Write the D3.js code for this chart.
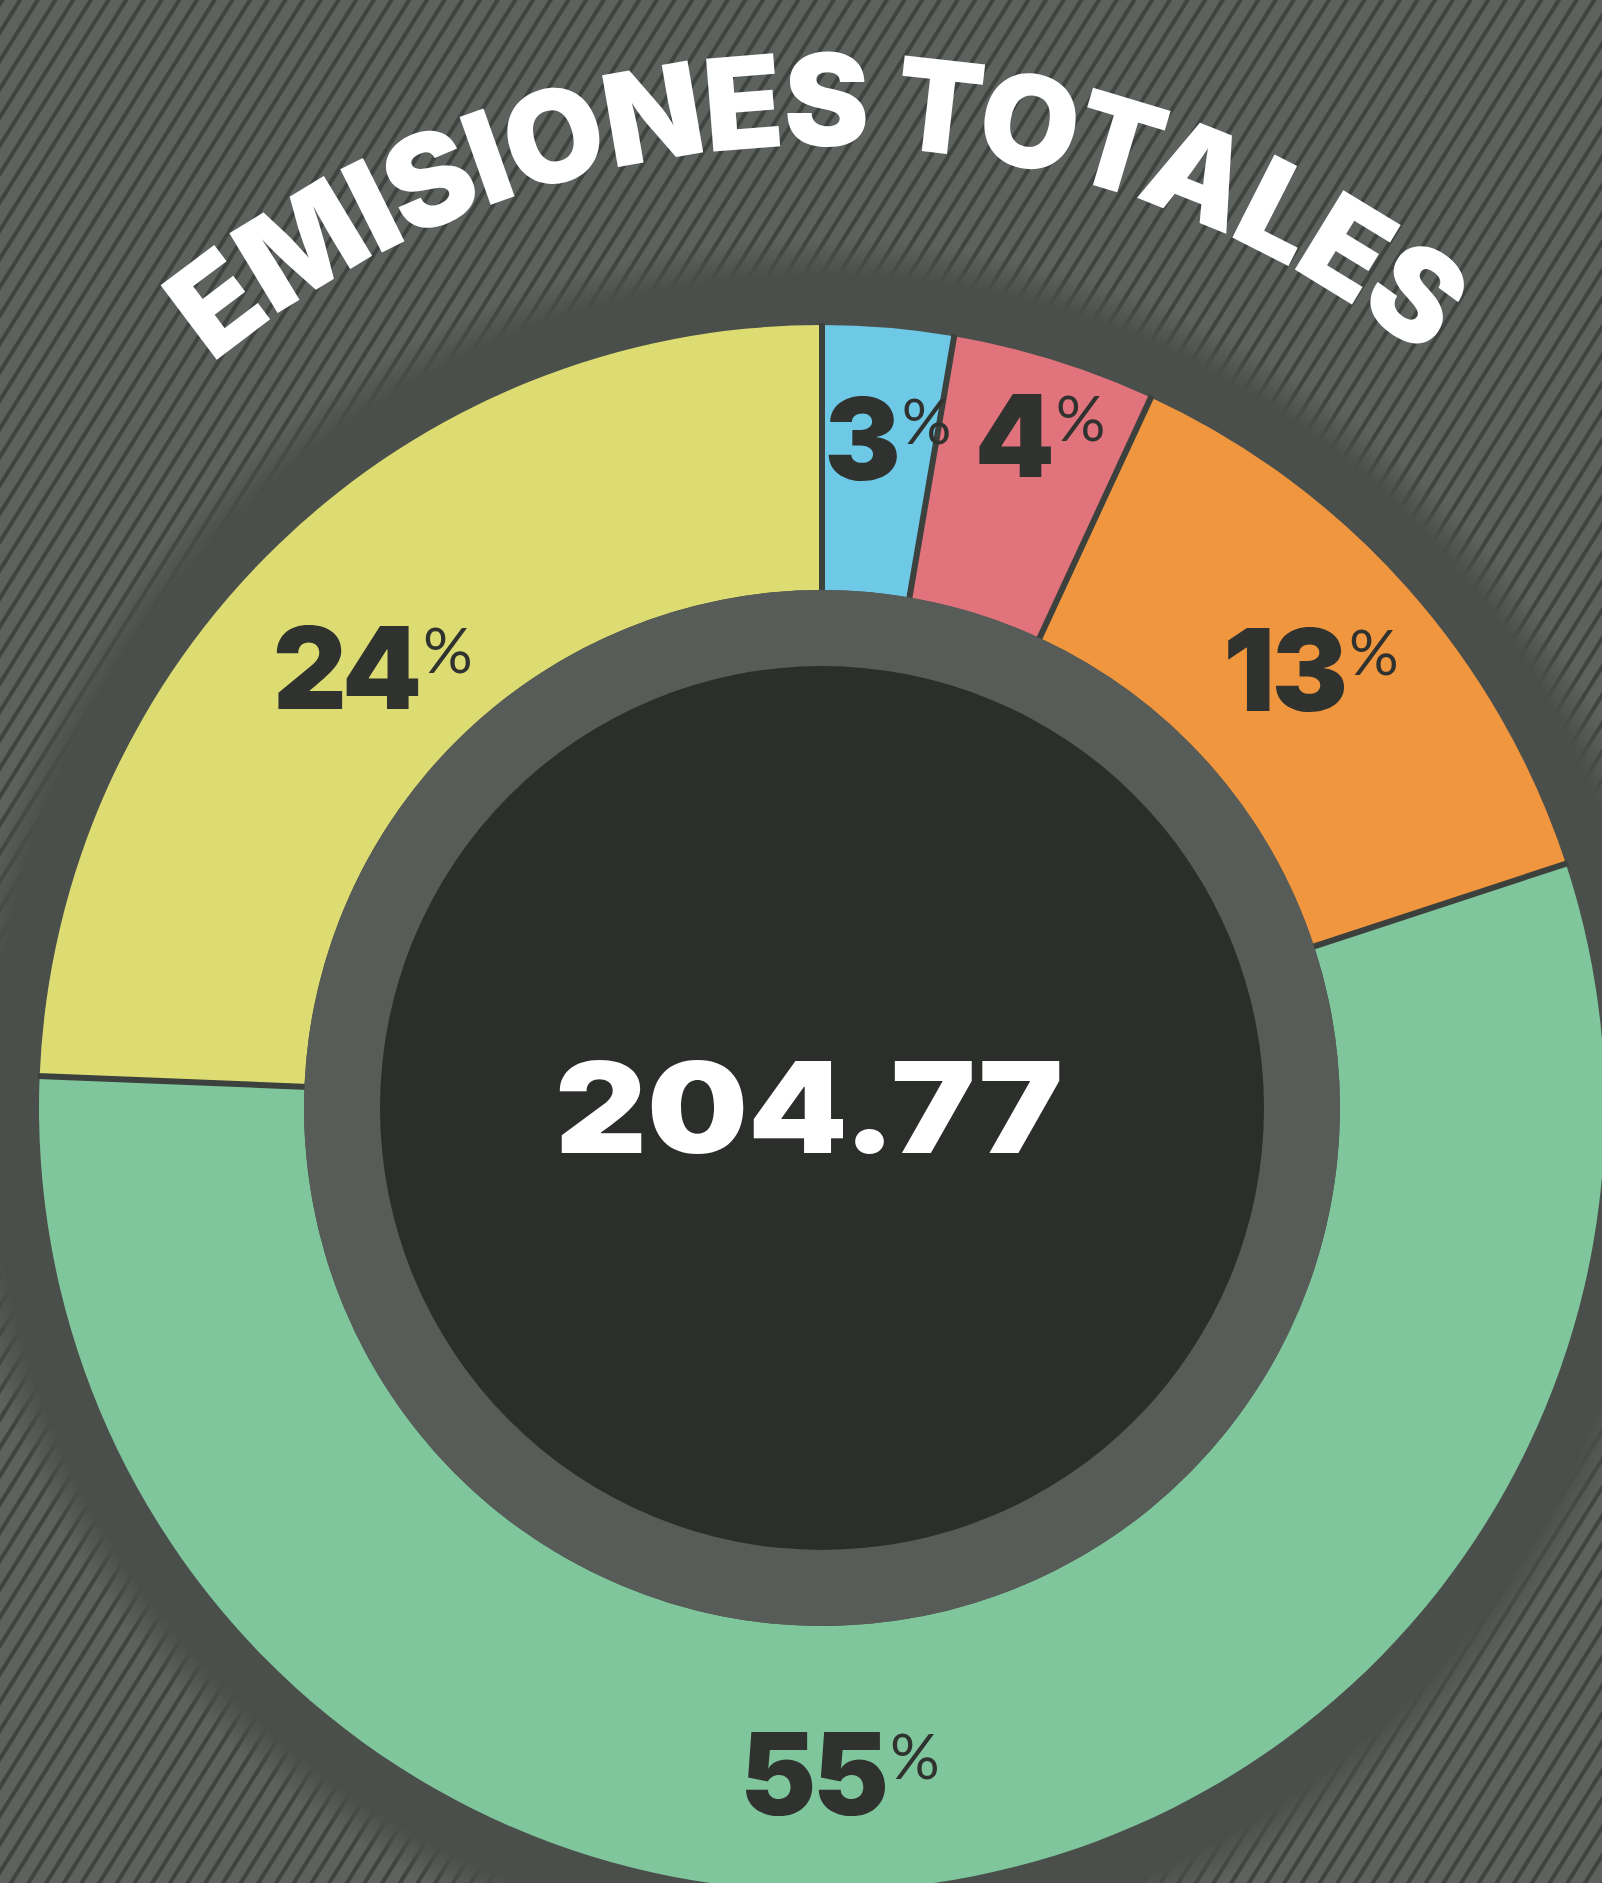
<!DOCTYPE html>
<html>
<head>
<meta charset="utf-8">
<script src="https://cdn.jsdelivr.net/npm/d3@7"></script>
<style>
  body { margin: 0; background: #5b5f5b; overflow: hidden; }
  svg { display: block; }
</style>
</head>
<body>
<div id="chart"></div>
<script>
// --- data ---
const categories = ['Azul', 'Rojo', 'Naranja', 'Verde', 'Amarillo'];
const shares = [2.7, 4.2, 13.05, 55.7, 24.35];     // share of total
const pctLabels = ['3', '4', '13', '55', '24'];
const totalValue = '204.77';
const titleText = 'EMISIONES TOTALES';

// --- layout / style ---
const W = 1602, H = 1883;
const cx = 822, cy = 1108;
const outerR = 783, innerR = 518, coreR = 442, bandR = 846;
const palette = ['#6dc9e6', '#e0737b', '#f0963e', '#80c69c', '#dddc72'];
const labelNudge = [[10, -12], [22, -43], [-4, 0], [-73, 11], [8, 35]];
const heavy = 'Inter, Roboto, sans-serif';

const svg = d3.select('#chart')
    .append('svg')
    .attr('width', W)
    .attr('height', H);

const defs = svg.append('defs');

// diagonal hatch of the background
const pat = defs.append('pattern')
    .attr('id', 'hatch')
    .attr('patternUnits', 'userSpaceOnUse')
    .attr('width', 15)
    .attr('height', 15)
    .attr('patternTransform', 'rotate(32)');
pat.append('rect').attr('width', 15).attr('height', 15).attr('fill', '#5d625e');
pat.append('rect').attr('width', 4).attr('height', 15).attr('fill', '#3f4441');

// soft dark band behind the ring (gradient in the group's own coordinates)
const grad = defs.append('radialGradient')
    .attr('id', 'band')
    .attr('gradientUnits', 'userSpaceOnUse')
    .attr('cx', 0).attr('cy', 0).attr('r', bandR + 24);
grad.append('stop').attr('offset', '0%').attr('stop-color', '#4b4f4c');
grad.append('stop').attr('offset', (bandR - 14) / (bandR + 24) * 100 + '%').attr('stop-color', '#4b4f4c');
grad.append('stop').attr('offset', '100%').attr('stop-color', '#4b4f4c').attr('stop-opacity', 0);

svg.append('rect')
    .attr('width', W)
    .attr('height', H)
    .attr('fill', 'url(#hatch)');

const g = svg.append('g').attr('transform', `translate(${cx},${cy})`);

g.append('circle').attr('r', bandR + 24).attr('fill', 'url(#band)');

const pie = d3.pie().sort(null).value(d => d);
const arcs = pie(shares);
const arc = d3.arc().innerRadius(innerR).outerRadius(outerR);
const color = d3.scaleOrdinal().domain(categories).range(palette);

g.selectAll('path.slice')
    .data(arcs)
    .enter()
    .append('path')
    .attr('class', 'slice')
    .attr('d', arc)
    .attr('fill', (d, i) => color(categories[i]));

// thin dark separators between slices
g.selectAll('line.sep')
    .data(arcs)
    .enter()
    .append('line')
    .attr('class', 'sep')
    .attr('x1', d => d3.pointRadial(d.startAngle, innerR - 4)[0])
    .attr('y1', d => d3.pointRadial(d.startAngle, innerR - 4)[1])
    .attr('x2', d => d3.pointRadial(d.startAngle, outerR + 2)[0])
    .attr('y2', d => d3.pointRadial(d.startAngle, outerR + 2)[1])
    .style('stroke', '#3d413e')
    .style('stroke-width', 6);

g.append('circle').attr('r', innerR).attr('fill', '#585c58');
g.append('circle').attr('r', coreR).attr('fill', '#2b2e2a');

// percentage labels
const labelArc = d3.arc().innerRadius(660).outerRadius(660);
const labels = g.selectAll('text.pct')
    .data(arcs)
    .enter()
    .append('text')
    .attr('class', 'pct')
    .attr('text-anchor', 'middle')
    .attr('transform', (d, i) => {
        const c = labelArc.centroid(d);
        return `translate(${c[0] + labelNudge[i][0]},${c[1] + labelNudge[i][1] + 42})`;
    })
    .style('fill', '#2f322f');
labels.append('tspan')
    .style('font-family', heavy)
    .style('font-weight', 900)
    .style('font-size', '114px')
    .style('letter-spacing', '-3px')
    .text((d, i) => pctLabels[i]);
labels.append('tspan')
    .attr('dy', -36)
    .attr('dx', 4)
    .style('font-family', 'Lato, sans-serif')
    .style('font-weight', 400)
    .style('font-size', '62px')
    .text('%');

// total in the middle, stretched to the wide face of the original
const total = g.append('text')
    .attr('text-anchor', 'middle')
    .style('fill', '#ffffff')
    .style('font-family', heavy)
    .style('font-weight', 900)
    .style('font-size', '126px')
    .text(totalValue);
const tb = total.node().getBBox();
const sx = 508 / tb.width;
total.attr('transform', `translate(-13,45) scale(${sx},1)`);

// curved title
const titleR = 962;
g.append('path')
    .attr('id', 'titlePath')
    .attr('d', `M${-titleR},0 A${titleR},${titleR} 0 0 1 ${titleR},0`)
    .attr('fill', 'none');
const title = g.append('text')
    .style('fill', '#ffffff')
    .style('font-family', heavy)
    .style('font-weight', 900)
    .style('font-size', '128px');
title.append('textPath')
    .attr('href', '#titlePath')
    .attr('startOffset', '49.8%')
    .attr('text-anchor', 'middle')
    .text(titleText);
const natural = title.node().getComputedTextLength();
const spacing = (1310 - natural) / (titleText.length - 1);
title.style('letter-spacing', spacing + 'px');
</script>
</body>
</html>
